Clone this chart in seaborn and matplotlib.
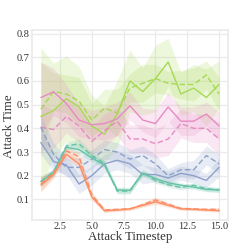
import numpy as np
import pandas as pd
import matplotlib
matplotlib.use("Agg")
import matplotlib.pyplot as plt
import seaborn as sns

# ========== DATA ==========
timesteps = list(range(1, 16))

# mean curves (solid = run a, dashed = run b)
lime_solid = [0.45, 0.475, 0.525, 0.49, 0.41, 0.375, 0.46, 0.60, 0.555, 0.61, 0.68, 0.545, 0.57, 0.53, 0.585]
lime_dashed = [0.48, 0.555, 0.545, 0.515, 0.435, 0.485, 0.465, 0.57, 0.59, 0.61, 0.59, 0.585, 0.585, 0.625, 0.545]
pink_solid = [0.53, 0.554, 0.505, 0.435, 0.415, 0.42, 0.44, 0.495, 0.435, 0.42, 0.49, 0.43, 0.43, 0.46, 0.41]
pink_dashed = [0.405, 0.395, 0.45, 0.41, 0.345, 0.39, 0.43, 0.355, 0.355, 0.335, 0.355, 0.42, 0.40, 0.40, 0.355]
blue_solid = [0.34, 0.26, 0.245, 0.165, 0.20, 0.25, 0.265, 0.25, 0.205, 0.205, 0.19, 0.21, 0.20, 0.18, 0.235]
blue_dashed = [0.405, 0.29, 0.235, 0.235, 0.27, 0.31, 0.30, 0.27, 0.285, 0.25, 0.20, 0.225, 0.225, 0.285, 0.25]
teal_solid = [0.175, 0.215, 0.32, 0.31, 0.275, 0.245, 0.14, 0.138, 0.21, 0.188, 0.17, 0.16, 0.152, 0.142, 0.14]
teal_dashed = [0.175, 0.215, 0.325, 0.335, 0.285, 0.25, 0.135, 0.135, 0.215, 0.18, 0.162, 0.15, 0.16, 0.145, 0.14]
orange_solid = [0.16, 0.205, 0.29, 0.25, 0.11, 0.052, 0.055, 0.06, 0.075, 0.09, 0.075, 0.06, 0.058, 0.055, 0.052]
orange_dashed = [0.165, 0.21, 0.305, 0.28, 0.12, 0.055, 0.058, 0.06, 0.078, 0.098, 0.08, 0.062, 0.06, 0.058, 0.058]

# half-width of the shaded bands
lime_solid_sd = [0.29, 0.20, 0.18, 0.17, 0.13, 0.12, 0.14, 0.13, 0.10, 0.14, 0.10, 0.09, 0.10, 0.12, 0.10]
lime_dashed_sd = [0.20, 0.08, 0.08, 0.10, 0.07, 0.08, 0.10, 0.06, 0.08, 0.06, 0.05, 0.06, 0.07, 0.06, 0.07]
pink_solid_sd = [0.15, 0.10, 0.08, 0.07, 0.06, 0.07, 0.07, 0.06, 0.05, 0.06, 0.06, 0.06, 0.06, 0.05, 0.06]
pink_dashed_sd = [0.10, 0.08, 0.07, 0.07, 0.06, 0.07, 0.06, 0.06, 0.06, 0.06, 0.07, 0.06, 0.06, 0.06, 0.07]
blue_solid_sd = [0.05, 0.04, 0.04, 0.04, 0.04, 0.04, 0.04, 0.04, 0.04, 0.03, 0.03, 0.03, 0.03, 0.03, 0.04]
blue_dashed_sd = [0.05, 0.05, 0.04, 0.04, 0.04, 0.04, 0.04, 0.04, 0.04, 0.04, 0.03, 0.03, 0.04, 0.04, 0.04]
teal_solid_sd = [0.02, 0.015, 0.015, 0.02, 0.015, 0.015, 0.012, 0.012, 0.012, 0.012, 0.01, 0.01, 0.01, 0.01, 0.01]
teal_dashed_sd = [0.02, 0.015, 0.015, 0.02, 0.015, 0.015, 0.012, 0.012, 0.012, 0.012, 0.01, 0.01, 0.01, 0.01, 0.01]
orange_solid_sd = [0.03, 0.015, 0.015, 0.02, 0.012, 0.008, 0.006, 0.006, 0.008, 0.012, 0.008, 0.006, 0.006, 0.006, 0.006]
orange_dashed_sd = [0.03, 0.015, 0.015, 0.02, 0.012, 0.008, 0.006, 0.006, 0.008, 0.012, 0.008, 0.006, 0.006, 0.006, 0.006]

pal = sns.color_palette("Set2")
series = [
    ("lime", "a", lime_solid, lime_solid_sd, pal[4]),
    ("lime", "b", lime_dashed, lime_dashed_sd, pal[4]),
    ("pink", "a", pink_solid, pink_solid_sd, pal[3]),
    ("pink", "b", pink_dashed, pink_dashed_sd, pal[3]),
    ("blue", "a", blue_solid, blue_solid_sd, pal[2]),
    ("blue", "b", blue_dashed, blue_dashed_sd, pal[2]),
    ("teal", "a", teal_solid, teal_solid_sd, pal[0]),
    ("teal", "b", teal_dashed, teal_dashed_sd, pal[0]),
    ("orange", "a", orange_solid, orange_solid_sd, pal[1]),
    ("orange", "b", orange_dashed, orange_dashed_sd, pal[1]),
]

rows = []
for name, run, vals, sd, col in series:
    for t, v in zip(timesteps, vals):
        rows.append({"t": t, "val": v, "method": name, "run": run})
df = pd.DataFrame(rows)

# ========== PLOT ==========
sns.set_theme(style="whitegrid", rc={"grid.color": "#ebebeb", "axes.edgecolor": "#ebebeb"})
plt.rcParams['font.family'] = ['Liberation Serif', 'DejaVu Serif']

fig = plt.figure(figsize=(2.4, 2.52), dpi=100)
ax = fig.add_axes([0.133, 0.127, 0.817, 0.754])

for name, run, vals, sd, col in series:
    lo = np.array(vals) - np.array(sd)
    hi = np.array(vals) + np.array(sd)
    ax.fill_between(timesteps, lo, hi, color=col, alpha=0.2, linewidth=0)

colors = {"lime": pal[4], "pink": pal[3], "blue": pal[2], "teal": pal[0], "orange": pal[1]}
sns.lineplot(data=df, x="t", y="val", hue="method", style="run", palette=colors,
             dashes={"a": "", "b": (4, 2)}, linewidth=1, legend=False, ax=ax)

ax.set_xticks([2.5, 5.0, 7.5, 10.0, 12.5, 15.0])
ax.set_yticks([0.1, 0.2, 0.3, 0.4, 0.5, 0.6, 0.7, 0.8])
ax.set_ylim(0.013, 0.815)
ax.tick_params(labelsize=7.5, length=0, pad=1.5, colors="#333333")
ax.set_xlabel("Attack Timestep", fontsize=9.3, color="#333333")
ax.set_ylabel("Attack Time", fontsize=9.3, color="#333333")
ax.yaxis.set_label_coords(-0.085, 0.495)
ax.xaxis.set_label_coords(0.5, -0.06)

fig.savefig("out.png", dpi=100)
